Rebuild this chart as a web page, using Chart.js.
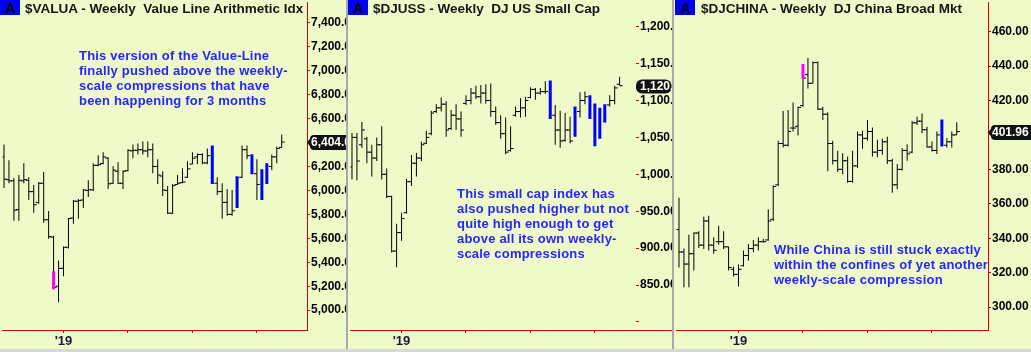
<!DOCTYPE html>
<html>
<head>
<meta charset="utf-8">
<script src="https://cdn.jsdelivr.net/npm/chart.js@4.4.1/dist/chart.umd.min.js"></script>
<style>
  html, body { margin: 0; padding: 0; }
  body { width: 1031px; height: 352px; background: #eefac8; position: relative; overflow: hidden; }
  canvas { position: absolute; top: 0; }
  .sep { position: absolute; top: 0; width: 2px; height: 352px; background: #a9a9a9; }
  .box { position: absolute; top: 0; width: 20px; height: 15px; background: #0000f4; color: #000;
         font: bold 14px "Liberation Sans", Arial, sans-serif; text-align: center; line-height: 16px; }
  .title { position: absolute; top: 1px; font: bold 13.5px "Liberation Sans", Arial, sans-serif;
           line-height: 15px; color: #161616; white-space: nowrap; }
  .note { position: absolute; font: bold 13px "Liberation Sans", Arial, sans-serif; line-height: 15px;
          letter-spacing: 0.2px; color: #2626ff; white-space: nowrap; }
  .floor { position: absolute; left: 0; top: 349px; width: 1031px; height: 3px; background: #d8d8d8; }
</style>
</head>
<body>
<canvas id="valua" width="346" height="352" style="left:0px"></canvas>
<div class="sep" style="left:346px"></div>
<canvas id="djuss" width="324" height="352" style="left:348px"></canvas>
<div class="sep" style="left:672px"></div>
<canvas id="djchina" width="357" height="352" style="left:674px"></canvas>
<div class="floor"></div>

<div class="box" style="left:0px">A</div>
<div class="title" style="left:25px">$VALUA - Weekly&nbsp; Value Line Arithmetic Idx</div>
<div class="box" style="left:348px">A</div>
<div class="title" style="left:373px">$DJUSS - Weekly&nbsp; DJ US Small Cap</div>
<div class="box" style="left:675px">A</div>
<div class="title" style="left:701px">$DJCHINA - Weekly&nbsp; DJ China Broad Mkt</div>

<div class="note" style="left:79px;top:48px">This version of the Value-Line<br>finally pushed above the weekly-<br>scale compressions that have<br>been happening for 3 months</div>
<div class="note" style="left:457px;top:186px">This small cap index has<br>also pushed higher but not<br>quite high enough to get<br>above all its own weekly-<br>scale compressions</div>
<div class="note" style="left:774px;top:242px">While China is still stuck exactly<br>within the confines of yet another<br>weekly-scale compression</div>

<script>
// weekly bars, '19 = first week of January
const valuaOpen = [6280,6090,6080,5840,6080,6085,5990,5900,6060,5755,5610,5200,5350,5525,5770,5910,5920,6000,6005,6210,
  6225,6270,6060,6160,6060,6165,6330,6335,6340,6330,6340,6200,6120,6000,5810,6050,6065,6110,6220,6280,
  6300,6230,6290,6060,5990,5900,5800,5860,6110,6340,6290,6140,6050,6060,6200,6280,6360];
const valuaHigh = [6384,6252,6103,6128,6227,6111,6045,6070,6153,5829,5622,5415,5531,5771,5920,5929,6011,6086,6227,6293,
  6318,6277,6202,6235,6169,6343,6384,6393,6409,6409,6393,6260,6161,6036,6053,6128,6186,6244,6318,6310,
  6310,6351,6376,6111,6061,6011,6003,6119,6376,6376,6302,6260,6177,6227,6301,6368,6467];
const valuaLow = [6020,6061,5746,5746,6061,5920,5813,5887,5730,5597,5174,5066,5282,5514,5721,5763,5854,5945,5995,6202,
  6219,6011,6053,6053,6011,6161,6268,6301,6301,6277,6144,6053,5953,5804,5804,6045,6061,6103,6219,6219,
  6219,6219,6053,5962,5763,5788,5788,5854,6103,6260,6136,5920,5920,6053,6169,6227,6359];
const valuaClose = [6094,6080,5835,6085,6090,5990,5880,6060,5755,5614,5190,5348,5525,5765,5910,5915,6003,6005,6210,6215,
  6280,6055,6169,6060,6160,6335,6335,6340,6330,6340,6200,6128,6003,5810,6040,6060,6070,6180,6270,6300,
  6230,6290,6060,5990,5900,5800,5830,6100,6340,6290,6140,6050,5930,6200,6280,6350,6404];
const valuaBlue = [42, 47, 50, 52, 53];
const valuaPinkIdx = [10];
const valuaPinkLow = [5174];
const valuaPinkHigh = [5324];
const valuaTicks = [5000, 5200, 5400, 5600, 5800, 6000, 6200, 6400, 6600, 6800, 7000, 7200, 7400];

const djussOpen = [1010,1050,1040,1048,1030,1022,1040,1000,970,896,921,948,990,1015,1022,1042,1055,1085,1090,1095,
  1062,1080,1075,1096,1100,1110,1105,1110,1100,1085,1070,1055,1032,1080,1085,1090,1104,1115,1110,1112,
  1110,1080,1060,1046,1060,1052,1085,1100,1100,1080,1050,1072,1094,1100,1122];
const djussHigh = [1056,1056,1071,1051,1040,1050,1065,1008,971,933,948,994,1026,1029,1044,1059,1086,1095,1104,1099,
  1087,1095,1085,1107,1117,1120,1121,1122,1123,1092,1080,1077,1065,1092,1103,1105,1118,1117,1117,1126,
  1127,1094,1086,1083,1078,1092,1111,1112,1107,1096,1090,1095,1107,1120,1132];
const djussLow = [993,992,1036,1015,997,1018,993,968,894,874,910,947,984,997,1018,1041,1053,1083,1085,1051,
  1060,1060,1051,1094,1095,1102,1096,1096,1078,1067,1048,1027,1031,1078,1077,1078,1103,1101,1108,1109,
  1075,1040,1036,1044,1042,1051,1077,1095,1075,1038,1048,1070,1092,1095,1120];
const djussClose = [1050,1018,1060,1030,1022,1040,1000,970,896,921,940,990,1015,1022,1040,1050,1083,1090,1095,1060,
  1080,1075,1060,1100,1110,1105,1110,1100,1085,1070,1055,1030,1035,1085,1090,1100,1115,1110,1112,1112,
  1080,1060,1045,1060,1045,1085,1100,1105,1080,1050,1070,1090,1100,1117,1120];
const djussBlue = [40, 45, 48, 49, 50, 51];
const djussTicks = [800, 850, 900, 950, 1000, 1050, 1100, 1150, 1200];

const chinaOpen = [345,332,325,331,343,336,350,336,338,338,335,322,319,324,330,334,336,338,339,351,
  371,395,394,404,405,417,435,430,442,415,412,395,385,380,385,373,382,400,398,402,
  390,391,396,385,371,380,391,390,407,408,403,393,391,400,394,396,400];
const chinaHigh = [363.5,334,342,343.3,344,352.4,353,340.5,347.2,344,335,323.6,324.7,332.8,336.7,339,340.5,339.7,356.8,370.8,
  396.6,413.9,414.5,418.8,416.4,441.2,444.6,442.7,442.7,416.4,413.1,396.6,390.8,389.4,387.5,390.8,402,402.4,408.7,404.3,
  397.2,397.7,399,386.2,383.1,392.3,394.6,408.1,410.6,412.5,404.8,396.2,402,409,398.1,402,407.3];
const chinaLow = [323,311.5,311.6,321.3,334.3,333.8,332.8,331,336.2,333.8,321.3,317.8,312,323.6,327,331.8,332.8,337.4,338.6,350,
  370.3,392.7,393.3,402,399.6,416.4,426.9,429.8,414.5,408.7,378.9,382.8,378.5,377,372.2,372.2,380.8,392,396.6,387.5,
  387,388.5,383.1,366.4,368.4,379.3,385,389.4,405.8,401,392.7,390.4,388.9,393.3,392.7,392.7,400];
const chinaClose = [332,325,331,343,336,350,336,333,338,335,323,319,322,330,334,336,338,338,350,370,
  395,394,402,404,416,433,430,442,415,412,395,385,380,385,373,382,400,398,402,390,
  391,396,385,371,380,391,389,407,408,403,393,391,400,394,396,400,401.96];
const chinaBlue = [53];
const chinaPinkIdx = [25];
const chinaPinkLow = [432.6];
const chinaPinkHigh = [441.2];
const chinaTicks = [300, 320, 340, 360, 380, 400, 420, 440, 460];

const RED = '#e00000';
const fmt = v => v.toLocaleString('en-US', { minimumFractionDigits: 2, maximumFractionDigits: 2 });

const lastTag = {
  id: 'lastTag',
  afterDraw(chart, args, o) {
    const { ctx, chartArea } = chart;
    const x = chartArea.right;
    const y = Math.round(chart.scales.y.getPixelForValue(o.value)) + 0.5;
    ctx.save();
    if (o.extendAxis) {
      ctx.strokeStyle = RED;
      ctx.lineWidth = 1;
      ctx.beginPath();
      ctx.moveTo(x, chartArea.bottom + 0.5);
      ctx.lineTo(chart.width, chartArea.bottom + 0.5);
      ctx.stroke();
    }
    ctx.fillStyle = '#111';
    ctx.beginPath();
    if (o.arrow) {
      ctx.moveTo(x, y);
      ctx.lineTo(x + 4, y - 5);
      ctx.lineTo(x + 4, y + 5);
      ctx.closePath();
      ctx.fill();
      ctx.beginPath();
      ctx.roundRect(x + 3, y - 7.5, chart.width - x, 15, 4);
    } else {
      ctx.roundRect(x, y - 7, chart.width - x - 0.5, 14, 6);
    }
    ctx.fill();
    ctx.fillStyle = '#fff';
    ctx.font = 'bold 12px "Liberation Sans", Arial, sans-serif';
    ctx.textBaseline = 'middle';
    ctx.fillText(fmt(o.value), x + 4, y + 0.5);
    ctx.restore();
  }
};

function drawPanel(id, p) {
  const blue = new Set(p.blue);
  const plain = p.high.map((_, i) => i).filter(i => !blue.has(i));
  const pinkIdx = p.pinkIdx || [];
  const barOpts = { grouped: false, inflateAmount: 0, borderWidth: 0 };
  const tickOpts = { type: 'line', showLine: false, pointStyle: 'line', pointRadius: 1.5,
                     pointBorderColor: '#000', pointBorderWidth: 1, pointHoverRadius: 0, order: 3 };
  new Chart(document.getElementById(id), {
    type: 'bar',
    data: {
      datasets: [
        { ...barOpts, order: 0, data: pinkIdx.map((i, j) => ({ x: i, y: [p.pinkLow[j], p.pinkHigh[j]] })), backgroundColor: '#ff00ff', barThickness: 3 },
        { ...barOpts, order: 1, data: p.blue.map(i => ({ x: i, y: [p.low[i], p.high[i]] })), backgroundColor: '#0000ff', barThickness: 3 },
        { ...barOpts, order: 2, data: plain.map(i => ({ x: i, y: [p.low[i], p.high[i]] })), backgroundColor: '#000', barThickness: 1 },
        { ...tickOpts, data: plain.map(i => ({ x: i - 0.3, y: p.open[i] })) },
        { ...tickOpts, data: plain.map(i => ({ x: i + 0.3, y: p.close[i] })) }
      ]
    },
    options: {
      responsive: false,
      animation: false,
      events: [],
      layout: { padding: 0 },
      plugins: {
        legend: { display: false },
        tooltip: { enabled: false },
        lastTag: { value: p.close[p.close.length - 1], arrow: p.axisLine, extendAxis: !p.axisLine }
      },
      scales: {
        x: {
          type: 'linear',
          offset: false,
          min: p.xMin, max: p.xMax,
          afterBuildTicks: s => { s.ticks = p.xTicks.map(v => ({ value: v })); },
          afterFit: s => { s.height = 22; s.paddingLeft = 0; s.paddingRight = 0; },
          border: { color: RED, width: 1 },
          grid: { offset: false, drawOnChartArea: false, tickLength: 3, color: RED },
          ticks: {
            autoSkip: false, maxRotation: 0, padding: 1, color: '#17173a',
            font: { family: '"Liberation Sans", Arial, sans-serif', size: 13, weight: 'bold' },
            callback: v => (v === p.yearIdx ? "'19" : '')
          }
        },
        y: {
          position: 'right',
          min: p.yMin, max: p.yMax,
          afterBuildTicks: s => { s.ticks = p.yTicks.map(v => ({ value: v })); },
          afterFit: s => { s.width = p.axisWidth; s.paddingTop = 0; s.paddingBottom = 0; },
          border: { display: p.axisLine, color: RED, width: 1 },
          grid: { drawOnChartArea: false, tickLength: 3, color: RED },
          ticks: {
            autoSkip: false, padding: 1, color: '#000',
            font: { family: '"Liberation Sans", Arial, sans-serif', size: 12, weight: 'bold' },
            callback: v => (v === p.hideTick ? '' : fmt(v))
          }
        }
      }
    },
    plugins: [lastTag]
  });
}

drawPanel('valua', {
  open: valuaOpen, high: valuaHigh, low: valuaLow, close: valuaClose,
  blue: valuaBlue, pinkIdx: valuaPinkIdx, pinkLow: valuaPinkLow, pinkHigh: valuaPinkHigh,
  yTicks: valuaTicks, yMin: 4834, yMax: 7570,
  xMin: -0.3, xMax: 61.1, xTicks: [12, 25, 38, 51], yearIdx: 12,
  axisWidth: 39, axisLine: true
});
drawPanel('djuss', {
  open: djussOpen, high: djussHigh, low: djussLow, close: djussClose,
  blue: djussBlue,
  yTicks: djussTicks, yMin: 789.1, yMax: 1232.7, hideTick: 800,
  xMin: -0.3, xMax: 57.3, xTicks: [10, 23, 36, 49], yearIdx: 10,
  axisWidth: 36, axisLine: false
});
drawPanel('djchina', {
  open: chinaOpen, high: chinaHigh, low: chinaLow, close: chinaClose,
  blue: chinaBlue, pinkIdx: chinaPinkIdx, pinkLow: chinaPinkLow, pinkHigh: chinaPinkHigh,
  yTicks: chinaTicks, yMin: 286.7, yMax: 476.9,
  xMin: -0.5, xMax: 62.3, xTicks: [12, 25, 38, 51], yearIdx: 12,
  axisWidth: 43, axisLine: true
});
</script>
</body>
</html>
